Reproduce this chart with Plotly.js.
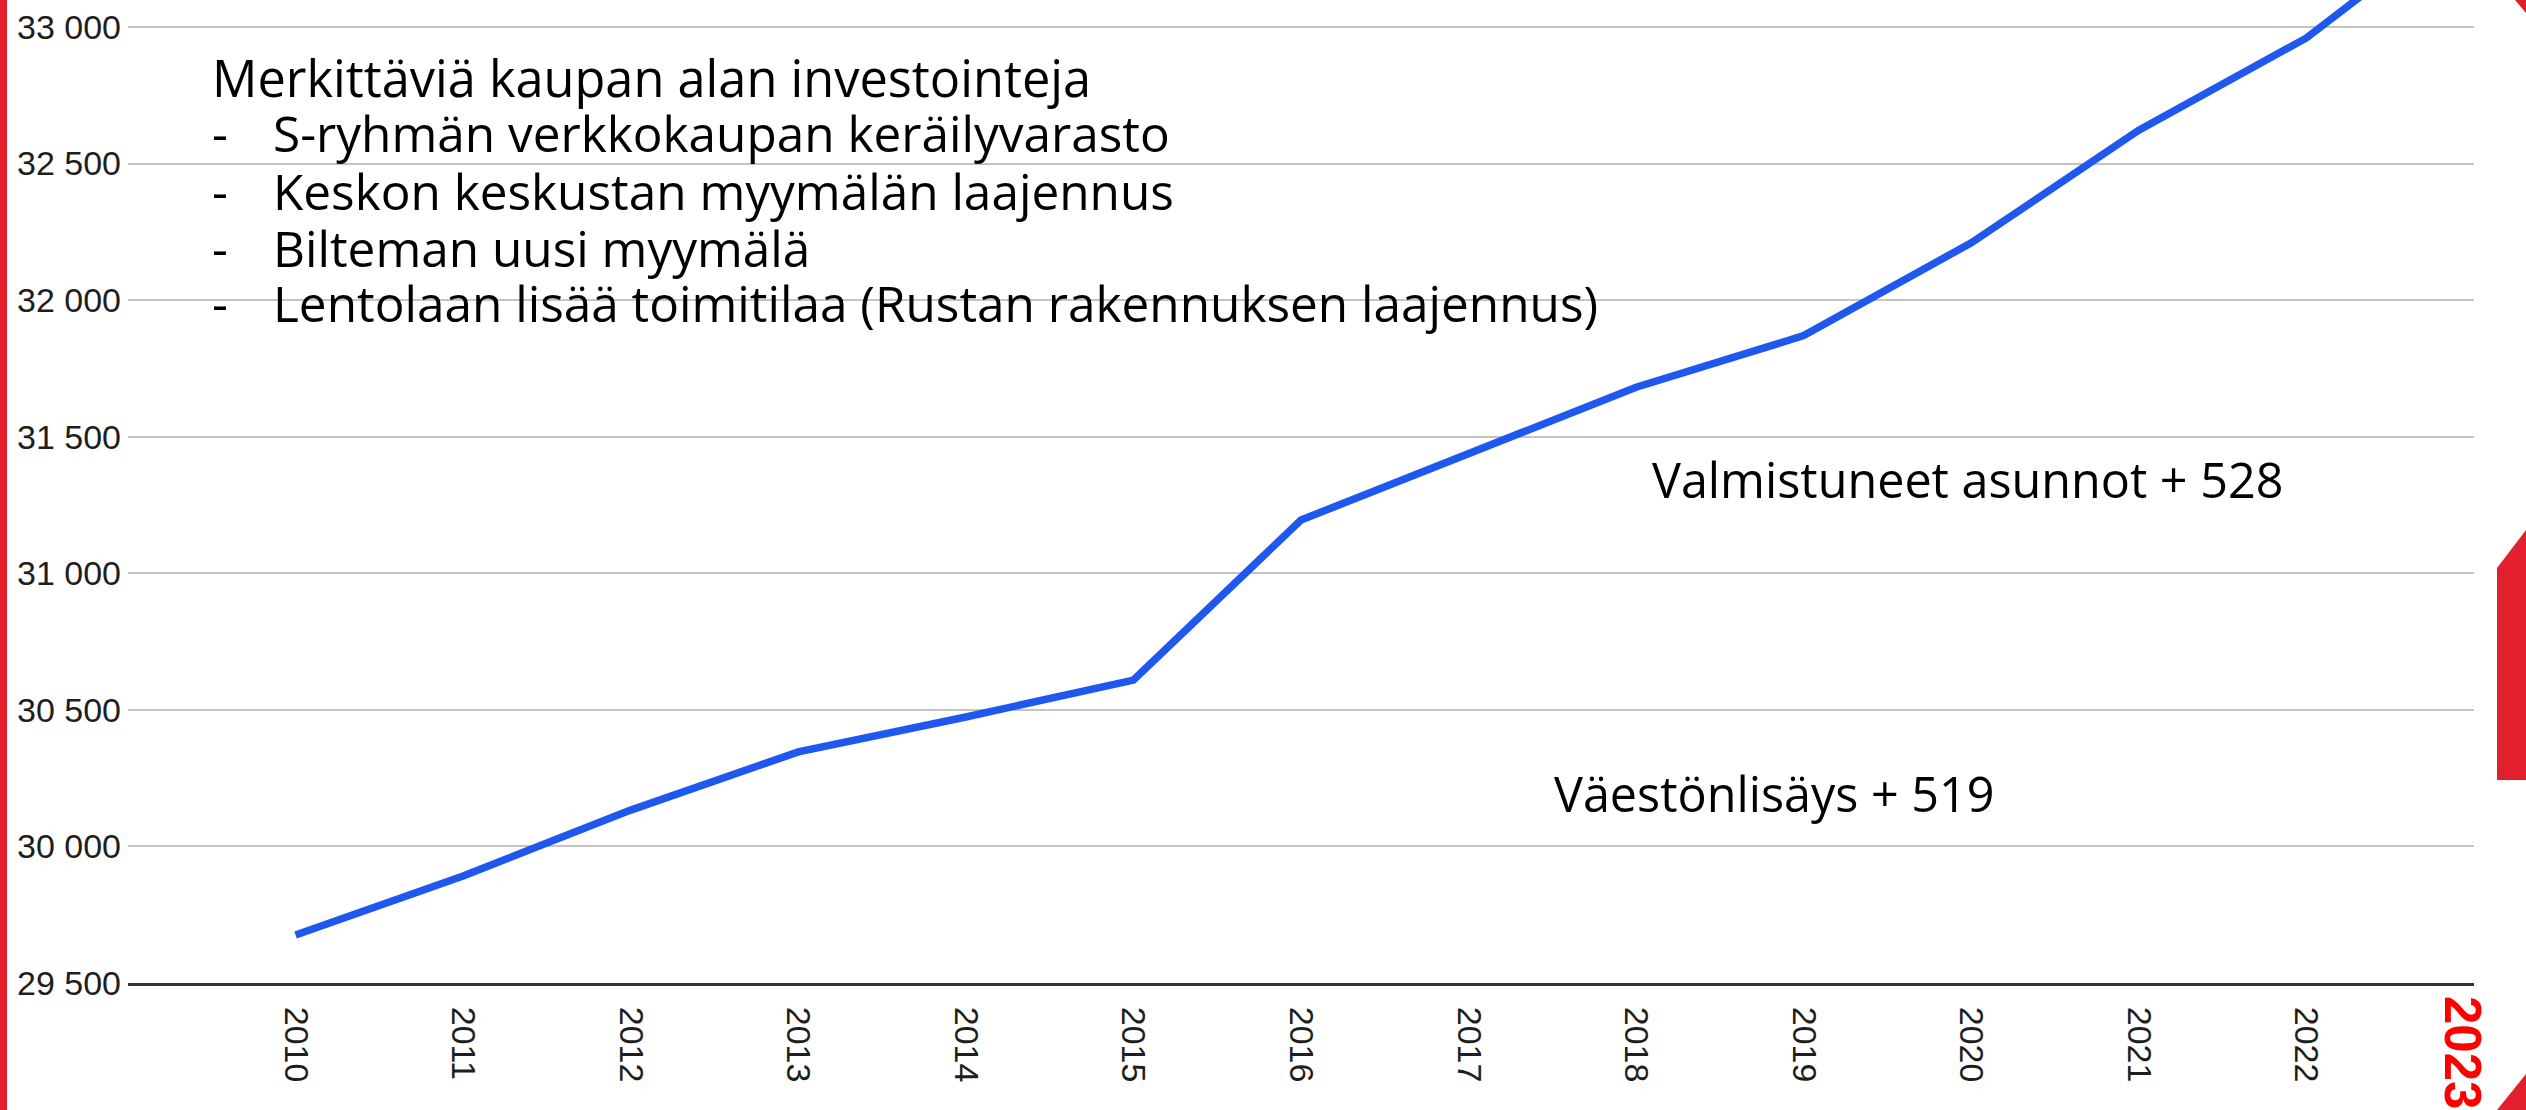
<!DOCTYPE html>
<html>
<head>
<meta charset="utf-8">
<script src="https://cdn.plot.ly/plotly-3.0.1.min.js"></script>
<style>
  html, body { margin: 0; padding: 0; background: #ffffff; }
  #chart { width: 2526px; height: 1110px; }
</style>
</head>
<body>
<div id="chart"></div>
<script>
// ---- data ----
const years = [2010, 2011, 2012, 2013, 2014, 2015, 2016, 2017, 2018, 2019, 2020, 2021, 2022, 2023];
const population = [29676, 29892, 30133, 30346, 30474, 30609, 31195, 31436, 31681, 31870, 32210, 32622, 32960, 33430];
const xTickYears = [2010, 2011, 2012, 2013, 2014, 2015, 2016, 2017, 2018, 2019, 2020, 2021, 2022];
const xTickLabels = ["2010", "2011", "2012", "2013", "2014", "2015", "2016", "2017", "2018", "2019", "2020", "2021", "2022"];
const yTickValues = [29500, 30000, 30500, 31000, 31500, 32000, 32500, 33000];
const highlightYear = "2023";
const headerText = "Merkittäviä kaupan alan investointeja";
const itemTexts = [
  "S-ryhmän verkkokaupan keräilyvarasto",
  "Keskon keskustan myymälän laajennus",
  "Bilteman uusi myymälä",
  "Lentolaan lisää toimitilaa (Rustan rakennuksen laajennus)"
];
const noteHousing = "Valmistuneet asunnot + 528";
const notePopulation = "Väestönlisäys + 519";

// ---- geometry helpers (pixel -> paper) ----
const W = 2526, H = 1110;
const M = { l: 128, r: 52, t: 0, b: 127 };
const PW = W - M.l - M.r, PH = H - M.t - M.b;
const px = x => (x - M.l) / PW;
const py = y => (M.t + PH - y) / PH;

const headFont = { family: "Open Sans, Noto Sans, sans-serif", size: 50.5, color: "#000000" };
const itemFont = { family: "Open Sans, Noto Sans, sans-serif", size: 49.5, color: "#000000" };
const noteFont = { family: "Open Sans, Noto Sans, sans-serif", size: 48.5, color: "#000000" };
const red = "#e11f2d";

const annotations = [];
annotations.push({ xref: "paper", yref: "paper", x: px(210), y: py(77), xanchor: "left", yanchor: "middle",
  text: headerText, showarrow: false, font: headFont });
const itemY = [133, 191, 248, 303];
itemTexts.forEach((t, i) => {
  annotations.push({ xref: "paper", yref: "paper", x: px(220), y: py(itemY[i]), xanchor: "center", yanchor: "middle",
    text: "-", showarrow: false, font: itemFont });
  annotations.push({ xref: "paper", yref: "paper", x: px(271), y: py(itemY[i]), xanchor: "left", yanchor: "middle",
    text: t, showarrow: false, font: itemFont });
});
annotations.push({ xref: "paper", yref: "paper", x: px(1650), y: py(479), xanchor: "left", yanchor: "middle",
  text: noteHousing, showarrow: false, font: noteFont });
annotations.push({ xref: "paper", yref: "paper", x: px(1552), y: py(793), xanchor: "left", yanchor: "middle",
  text: notePopulation, showarrow: false, font: noteFont });
annotations.push({ xref: "x", yref: "paper", x: years[years.length - 1], xshift: -11, y: py(1052),
  xanchor: "center", yanchor: "middle", textangle: 90,
  text: "<b>" + highlightYear + "</b>", showarrow: false,
  font: { family: "Arial, Liberation Sans, sans-serif", size: 51, color: "#ff0000" } });

const poly = pts => "M " + pts.map(p => px(p[0]) + "," + py(p[1])).join(" L ") + " Z";
const shapes = [
  { type: "path", xref: "paper", yref: "paper", path: poly([[0, 0], [7, 0], [7, 1110], [0, 1110]]), fillcolor: red, line: { width: 0 }, layer: "above" },
  { type: "path", xref: "paper", yref: "paper", path: poly([[2497, 568], [2526, 530], [2526, 780], [2497, 780]]), fillcolor: red, line: { width: 0 }, layer: "above" },
  { type: "path", xref: "paper", yref: "paper", path: poly([[2497, 1110], [2526, 1074], [2526, 1110]]), fillcolor: red, line: { width: 0 }, layer: "above" },
  { type: "path", xref: "paper", yref: "paper", path: poly([[2515, 0], [2526, 0], [2526, 13]]), fillcolor: red, line: { width: 0 }, layer: "above" }
];

const trace = {
  x: years, y: population, type: "scatter", mode: "lines",
  line: { color: "#1f58ef", width: 7.5 }, hoverinfo: "skip"
};

const tickFont = { family: "Arial, Liberation Sans, sans-serif", size: 34, color: "#1e1e1e" };
const layout = {
  width: W, height: H,
  margin: M,
  paper_bgcolor: "#ffffff", plot_bgcolor: "#ffffff",
  showlegend: false,
  separators: ", ",
  xaxis: {
    type: "linear", range: [2009, 2023],
    tickmode: "array", tickvals: xTickYears, ticktext: xTickLabels,
    tickangle: 90, tickfont: tickFont, ticks: "", ticklabelstandoff: 14,
    showgrid: false, zeroline: false,
    showline: true, linecolor: "#333333", linewidth: 3
  },
  yaxis: {
    range: [29500, 29500 + PH * 3500 / 956],
    tickmode: "array", tickvals: yTickValues, tickformat: ",d",
    tickfont: tickFont, ticks: "", ticklabelstandoff: 6,
    showgrid: true, gridcolor: "#c4c4c4", gridwidth: 2,
    zeroline: false, showline: false
  },
  annotations: annotations,
  shapes: shapes
};

Plotly.newPlot("chart", [trace], layout, { staticPlot: true, displayModeBar: false });
</script>
</body>
</html>
